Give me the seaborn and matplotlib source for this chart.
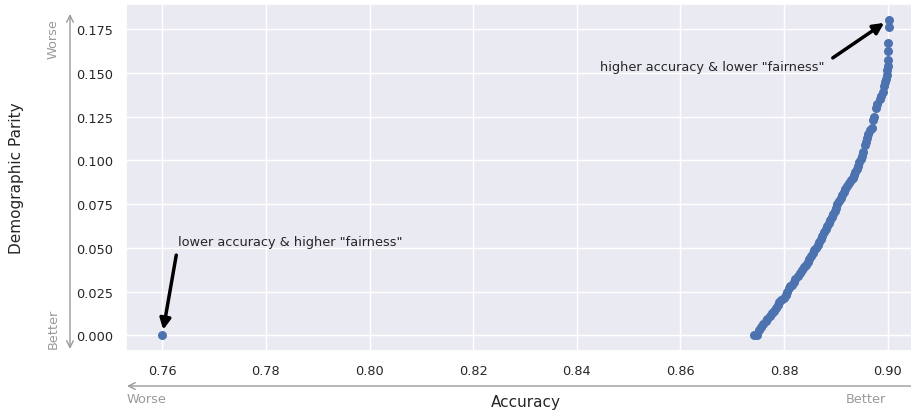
import matplotlib
matplotlib.use("Agg")
import matplotlib.pyplot as plt
import seaborn as sns
import pandas as pd

# Pareto-front points (accuracy, demographic parity)
accuracy = [
    0.7600,
    0.8742, 0.8748, 0.8752, 0.8756, 0.8760, 0.8765, 0.8768, 0.8772, 0.8776, 0.8780,
    0.8784, 0.8788, 0.8791, 0.8795, 0.8799, 0.8803, 0.8806, 0.8809, 0.8811, 0.8815,
    0.8819, 0.8822, 0.8826, 0.8830, 0.8834, 0.8838, 0.8842, 0.8846, 0.8849, 0.8852,
    0.8855, 0.8858, 0.8861, 0.8865, 0.8868, 0.8871, 0.8874, 0.8877, 0.8880, 0.8883,
    0.8886, 0.8889, 0.8892, 0.8895, 0.8898, 0.8901, 0.8903, 0.8906, 0.8909, 0.8912,
    0.8915, 0.8918, 0.8921, 0.8925, 0.8930, 0.8933, 0.8935, 0.8937, 0.8940, 0.8943,
    0.8945, 0.8948, 0.8951, 0.8953, 0.8956, 0.8958, 0.8960, 0.8962, 0.8966, 0.8969,
    0.8972, 0.8974, 0.8977, 0.8980, 0.8985, 0.8988, 0.8990, 0.8993, 0.8994, 0.8996,
    0.8998, 0.8999, 0.9000, 0.9001, 0.9001, 0.9001, 0.9002, 0.9002,
]
parity = [
    0.0000,
    0.0000, 0.0002, 0.0030, 0.0045, 0.0065, 0.0080, 0.0095, 0.0110, 0.0125, 0.0140,
    0.0155, 0.0172, 0.0188, 0.0200, 0.0215, 0.0232, 0.0250, 0.0268, 0.0283, 0.0290,
    0.0305, 0.0320, 0.0338, 0.0355, 0.0372, 0.0388, 0.0402, 0.0418, 0.0435, 0.0452,
    0.0468, 0.0485, 0.0500, 0.0518, 0.0535, 0.0552, 0.0570, 0.0588, 0.0605, 0.0622,
    0.0640, 0.0658, 0.0675, 0.0695, 0.0712, 0.0730, 0.0748, 0.0765, 0.0782, 0.0800,
    0.0818, 0.0835, 0.0852, 0.0868, 0.0885, 0.0900, 0.0915, 0.0935, 0.0952, 0.0970,
    0.0990, 0.1010, 0.1025, 0.1045, 0.1085, 0.1105, 0.1130, 0.1150, 0.1175, 0.1185,
    0.1230, 0.1250, 0.1300, 0.1320, 0.1350, 0.1370, 0.1390, 0.1425, 0.1445, 0.1465,
    0.1490, 0.1515, 0.1540, 0.1575, 0.1625, 0.1670, 0.1760, 0.1803,
]

x_ticks = [0.76, 0.78, 0.80, 0.82, 0.84, 0.86, 0.88, 0.90]
y_ticks = [0.000, 0.025, 0.050, 0.075, 0.100, 0.125, 0.150, 0.175]

df = pd.DataFrame({"Accuracy": accuracy, "Demographic Parity": parity})

sns.set_theme(style="darkgrid")
GRAY = "#9a9a9a"
SMALL = 9.3

fig = plt.figure(figsize=(9.12, 4.14), dpi=100)
ax = fig.add_axes([126 / 912, 62 / 414, 799 / 912, 347 / 414])

sns.scatterplot(data=df, x="Accuracy", y="Demographic Parity", ax=ax,
                color="#4C72B0", s=42, linewidth=0, zorder=3)

ax.set_xlim(0.7530, 0.9072)
ax.set_ylim(-0.0090, 0.1893)
ax.set_xticks(x_ticks)
ax.set_yticks(y_ticks)
ax.set_xticklabels([f"{v:.2f}" for v in x_ticks])
ax.set_yticklabels([f"{v:.3f}" for v in y_ticks])
ax.tick_params(labelsize=SMALL)
ax.set_xlabel("")
ax.set_ylabel("")

# annotations
ax.annotate("", xy=(0.9002, 0.1803), xytext=(0.8894, 0.1585),
            arrowprops=dict(arrowstyle="-|>", color="black", lw=2.5,
                            mutation_scale=16, shrinkA=0, shrinkB=4))
ax.text(0.8444, 0.1533, 'higher accuracy & lower "fairness"',
        ha="left", va="center", fontsize=SMALL, color="#262626")

ax.annotate("", xy=(0.7600, 0.0000), xytext=(0.7627, 0.0458),
            arrowprops=dict(arrowstyle="-|>", color="black", lw=2.5,
                            mutation_scale=16, shrinkA=0, shrinkB=4))
ax.text(0.7631, 0.0538, 'lower accuracy & higher "fairness"',
        ha="left", va="center", fontsize=SMALL, color="#262626")

# axis titles
fig.text(526 / 912, 1 - 403 / 414, "Accuracy", ha="center", va="center",
         fontsize=11, color="#262626")
fig.text(17 / 912, 1 - 178 / 414, "Demographic Parity", ha="center", va="center",
         rotation=90, fontsize=11, color="#262626")

# direction arrows (outside axes)
ax.annotate("", xy=(70, 399), xytext=(70, 64), xycoords="figure pixels",
            textcoords="figure pixels", annotation_clip=False,
            arrowprops=dict(arrowstyle="<->", color=GRAY, lw=1,
                            shrinkA=0, shrinkB=0))
ax.annotate("", xy=(127, 27), xytext=(925, 27), xycoords="figure pixels",
            textcoords="figure pixels", annotation_clip=False,
            arrowprops=dict(arrowstyle="->", color=GRAY, lw=1,
                            shrinkA=0, shrinkB=0))

fig.text(53 / 912, 1 - 39 / 414, "Worse", rotation=90, ha="center", va="center",
         fontsize=SMALL, color=GRAY)
fig.text(53 / 912, 1 - 329 / 414, "Better", rotation=90, ha="center", va="center",
         fontsize=SMALL, color=GRAY)
fig.text(127 / 912, 1 - 400 / 414, "Worse", ha="left", va="center",
         fontsize=SMALL, color=GRAY)
fig.text(886 / 912, 1 - 400 / 414, "Better", ha="right", va="center",
         fontsize=SMALL, color=GRAY)

fig.savefig("out.png", dpi=100)
